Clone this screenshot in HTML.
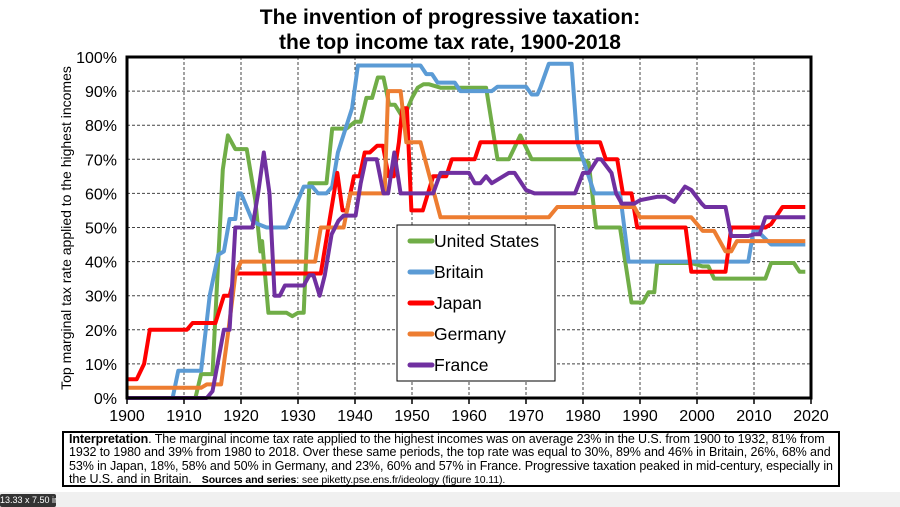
<!DOCTYPE html>
<html><head><meta charset="utf-8"><style>
body{margin:0;width:900px;height:507px;background:#fff;overflow:hidden;font-family:"Liberation Sans",Arial,sans-serif;position:relative}
#note{position:absolute;left:62px;top:431px;width:778px;height:56px;border:2px solid #000;box-sizing:border-box;overflow:hidden}
#noteInner{position:absolute;left:5px;top:0px;width:768px;font-size:12.5px;line-height:13.3px;color:#000;letter-spacing:-0.1px}
#tip{position:absolute;left:0;top:494px;width:56px;height:13px;background:#333;color:#fff;font-size:9px;line-height:13px;text-align:center;border-radius:2px;overflow:hidden;white-space:nowrap}
#strip{position:absolute;left:0;top:492px;width:900px;height:15px;background:#f0f0f0}
</style></head><body>
<div id="strip"></div>
<div id="tip">13.33 x 7.50 in</div>
<svg id="chart" width="900" height="430" style="position:absolute;left:0;top:0">
<text x="450" y="24" text-anchor="middle" font-size="21" font-weight="bold">The invention of progressive taxation:</text>
<text x="450" y="49" text-anchor="middle" font-size="21" font-weight="bold">the top income tax rate, 1900-2018</text>
<g id="grid"></g><g id="series"></g><g id="axes"></g>
<text transform="translate(71,228) rotate(-90)" text-anchor="middle" font-size="14">Top marginal tax rate applied to the highest incomes</text>
<g>
<rect x="397" y="225" width="158" height="156" fill="#fff" stroke="#000" stroke-width="1"/>
<g id="legend"></g></g>
</svg>
<div id="note"><div id="noteInner"><b>Interpretation</b>. The marginal income tax rate applied to the highest incomes was on average 23% in the U.S. from 1900 to 1932, 81% from 1932 to 1980 and 39% from 1980 to 2018. Over these same periods, the top rate was equal to 30%, 89% and 46% in Britain, 26%, 68% and 53% in Japan, 18%, 58% and 50% in Germany, and 23%, 60% and 57% in France. Progressive taxation peaked in mid-century, especially in the U.S. and in Britain. &nbsp;&nbsp;<b style="font-size:10.5px">Sources and series</b><span style="font-size:10.5px">: see piketty.pse.ens.fr/ideology (figure 10.11).</span></div></div>
<script>
const xTicks=[1900,1910,1920,1930,1940,1950,1960,1970,1980,1990,2000,2010,2020];
const yTicks=[0,10,20,30,40,50,60,70,80,90,100];
const seriesNames=["United States","Britain","Japan","Germany","France"];
const seriesColors=["#70ad47","#5b9bd5","#ff0000","#ed7d31","#7030a0"];
const usYears=[1900,1912,1913,1915,1916.8,1917.7,1919,1921,1922.5,1923.4,1923.7,1924.8,1928,1929,1930,1931,1932,1935,1936,1938.5,1940,1941,1942,1943,1944,1945,1946,1947,1948.5,1949,1950,1951,1952,1953,1955,1963,1965,1967,1969,1971,1980,1981,1982.3,1986.5,1988.5,1990.5,1991.5,1992.5,1993,1999,2001,2002,2003,2012,2013,2017,2018,2019];
const usValues=[0,0,7,7,67,77,73,73,58,43,46,25,25,24,25,25,63,63,79,79,81,81,88,88,94,94,86,86,82,84,88,91,92,92,91,91,70,70,77,70,70,69,50,50,28,28,31,31,39.6,39.6,38.6,38.6,35,35,39.6,39.6,37,37];
const brYears=[1900,1908,1909,1913,1914.5,1916,1917,1918,1919,1919.5,1920,1922,1923,1924.5,1928,1930,1931,1932.5,1933.5,1935,1936,1937,1939.5,1940.5,1951.5,1952.5,1953.5,1954.5,1957.5,1958.5,1964,1965,1970,1971,1972,1972.5,1974,1978,1979,1982,1984.5,1986.5,1988,2009,2010,2013,2019];
const brValues=[0,0,8,8,30,42,43,52.5,52.5,60,60,52,51,50,50,58,62,62,60,60,62,72,85,97.5,97.5,95,95,92.5,92.5,90,90,91.3,91.3,89,89,91,98,98,75,60,60,60,40,40,50,45,45];
const jpYears=[1900,1901.7,1903,1904,1910.5,1911.5,1915.5,1917,1918,1919,1934,1936.9,1937.8,1938.6,1939.8,1940.8,1941.7,1942.6,1943.9,1944.9,1945.9,1946.8,1947.7,1948.3,1949.1,1949.9,1951.9,1953.7,1956,1957,1961,1962,1983,1984,1986,1987,1988.5,1989.5,1998,1999,2005,2006,2012,2013,2015,2019];
const jpValues=[5.5,5.5,10,20,20,22,22,30,30,36.5,36.5,66,55,55,65,65,72,72,74,74,65,65,75,85,85,55,55,65,65,70,70,75,75,70,70,60,60,50,50,37,37,50,50,51,56,56];
const deYears=[1900,1913,1914,1916.5,1917.8,1919,1920,1933,1934,1938,1939.2,1945.2,1945.8,1948,1949,1951.5,1955,1974,1975.5,1989,1990,1999,2001,2003,2005,2006,2007,2019];
const deValues=[3,3,4,4,20,36,40,40,50,50,60,60,90,90,75,75,53,53,56,56,53,53,49,49,43,43,46,46];
const frYears=[1900,1914,1915,1917,1918,1919,1922,1923,1924,1925,1925.9,1926.8,1927.7,1931,1932,1932.7,1933.8,1934.7,1935.9,1937.1,1938,1940.1,1941,1941.9,1943.8,1945,1945.8,1946.9,1948,1953.7,1955,1960,1961,1962,1963,1964,1967,1968,1970,1971.5,1978.6,1980,1981,1982.5,1983.2,1985,1985.8,1986.8,1989,1990,1993,1994.5,1996,1997.9,1999,2000.8,2001.4,2005,2006,2009,2010,2011,2012,2019];
const frValues=[0,0,2,20,20,50,50,60,72,60,30,30,33,33,36,36,30,36,48,52,53.5,53.5,63,70,70,60,60,72,60,60,66,66,63,63,65,63,66,66,61,60,60,66,66,70,70,66,60,57,57,58,59,59,57.5,62,61,57,56,56,47.5,47.5,48,48,53,53];
const allYears=[usYears,brYears,jpYears,deYears,frYears];
const allValues=[usValues,brValues,jpValues,deValues,frValues];
const X0=127,X1=811,Y0=398,Y1=57;
const xs=y=>X0+(y-1900)/120*(X1-X0);
const ys=v=>Y0-v/100*(Y0-Y1);
const NS="http://www.w3.org/2000/svg";
function mk(tag,attrs,parent){const e=document.createElementNS(NS,tag);for(const k in attrs)e.setAttribute(k,attrs[k]);parent.appendChild(e);return e;}
const grid=document.getElementById('grid'),axes=document.getElementById('axes'),ser=document.getElementById('series'),leg=document.getElementById('legend');
yTicks.forEach(v=>{
 if(v>0&&v<100){const l=mk('line',{x1:X0,x2:X1,y1:ys(v),y2:ys(v),stroke:'#444','stroke-width':1,'stroke-dasharray':'3,2'},grid);
 
 }
 const t=mk('text',{x:X0-10,y:ys(v)+6,'text-anchor':'end','font-size':16},axes);t.textContent=v+'%';
 
 
});
xTicks.forEach(y=>{
 if(y>1900&&y<2020){const l=mk('line',{x1:xs(y),x2:xs(y),y1:Y1,y2:Y0,stroke:'#444','stroke-width':1,'stroke-dasharray':'3,2'},grid);
 
 }
 const tk=mk('line',{x1:xs(y),x2:xs(y),y1:Y0,y2:Y0+6,stroke:'#000','stroke-width':1.5},axes);
 
 
 const t=mk('text',{x:xs(y),y:Y0+23,'text-anchor':'middle','font-size':16},axes);t.textContent=y;
 
 
});
const frame=mk('rect',{x:X0,y:Y1,width:X1-X0,height:Y0-Y1,fill:'none',stroke:'#000','stroke-width':3},axes);


allYears.forEach((yr,i)=>{
 const d=yr.map((y,j)=>(j?'L':'M')+xs(y).toFixed(1)+','+ys(allValues[i][j]).toFixed(1)).join('');
 const p=mk('path',{d:d,fill:'none',stroke:seriesColors[i],'stroke-width':4,'stroke-linejoin':'round'},ser);
 
 
});
seriesNames.forEach((n,i)=>{
 const y=241+i*31;
 const l=mk('line',{x1:410,x2:432,y1:y,y2:y,stroke:seriesColors[i],'stroke-width':5,'stroke-linecap':'round'},leg);
 
 
 const t=mk('text',{x:434,y:y+6,'font-size':17.5},leg);t.textContent=n;
 
 
});
</script>
</body></html>
